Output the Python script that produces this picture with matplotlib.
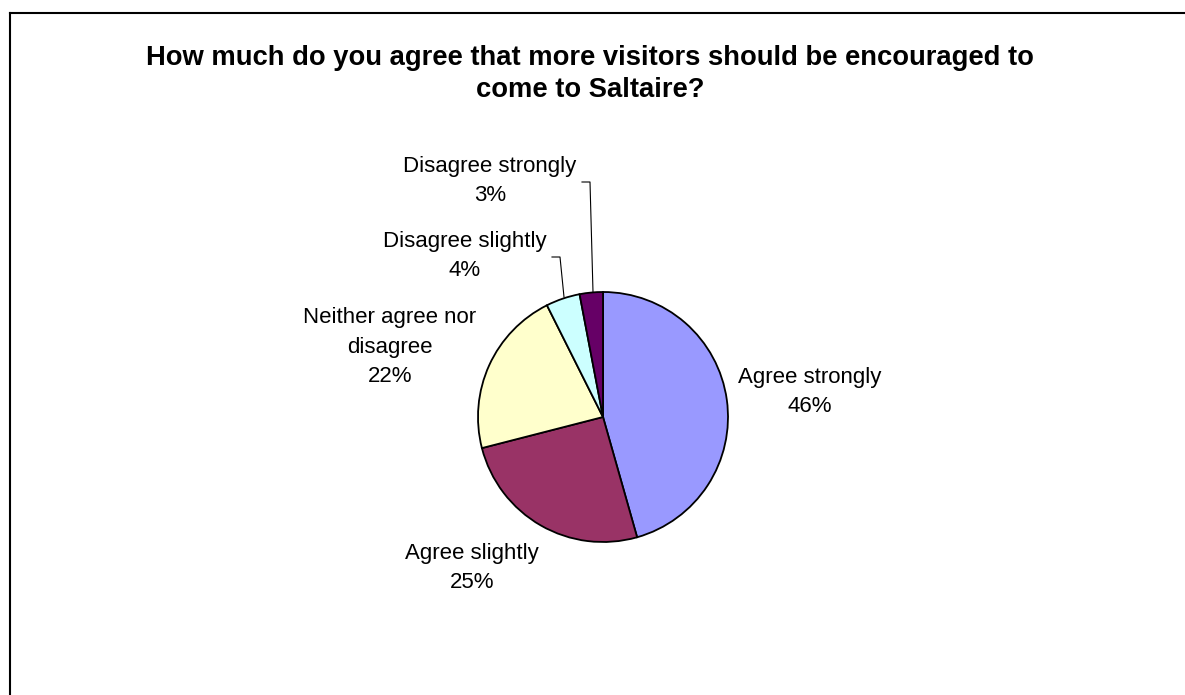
import matplotlib.pyplot as plt
from matplotlib.lines import Line2D

plt.rcParams['font.family'] = ['Liberation Sans', 'DejaVu Sans']

# Survey responses (share of respondents, %)
categories = ['Agree strongly', 'Agree slightly', 'Neither agree nor\ndisagree',
              'Disagree slightly', 'Disagree strongly']
shares = [45.6, 25.4, 21.6, 4.4, 3.0]
colors = ['#9999FF', '#993366', '#FFFFCC', '#CCFFFF', '#660066']

W, H = 1185, 695
fig = plt.figure(figsize=(W / 100, H / 100), dpi=100)
ax = fig.add_axes([0, 0, 1, 1])

# pie centre / radius in pixel space (y measured from the top)
cx, cy, r = 603, 417, 125
ax.pie(shares, colors=colors, startangle=90, counterclock=False,
       center=(cx, H - cy), radius=r, frame=True,
       wedgeprops=dict(edgecolor='black', linewidth=1.3))
ax.set_xlim(0, W)
ax.set_ylim(0, H)
ax.set_aspect('equal')
ax.axis('off')

# data labels
label_pos = [(810, 392), (472, 568), (390, 347), (465, 256), (490, 181)]
for name, val, (x, y) in zip(categories, shares, label_pos):
    ax.text(x, H - y, f'{name}\n{round(val):d}%', ha='center', va='center',
            fontsize=16, linespacing=1.52)

# leader lines for the two small slices
leaders = [
    [(552, 257), (560, 257), (564, 297)],
    [(582, 182), (590, 182), (593, 292)],
]
for pts in leaders:
    xs = [p[0] for p in pts]
    ys = [H - p[1] for p in pts]
    ax.plot(xs, ys, color='black', linewidth=0.8)

ax.text(590, H - 74, 'How much do you agree that more visitors should be encouraged to\ncome to Saltaire?',
        ha='center', va='center', fontsize=19.7, fontweight='bold', linespacing=1.33)

# chart-area frame (runs off the right and bottom edge)
fig.add_artist(Line2D([10 / W, 10 / W], [0, 1 - 13 / H], color='black', linewidth=1.5))
fig.add_artist(Line2D([10 / W, 1], [1 - 13 / H, 1 - 13 / H], color='black', linewidth=1.5))

fig.savefig('out.png', dpi=100, facecolor='white')
